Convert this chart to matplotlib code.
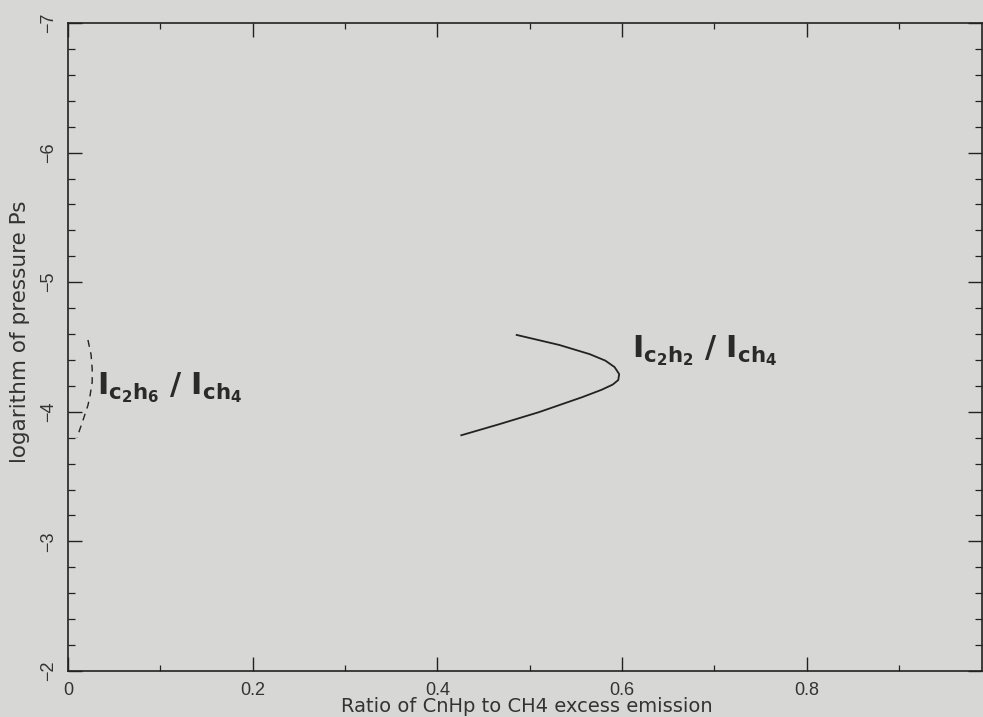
import matplotlib
matplotlib.use("Agg")
import matplotlib.pyplot as plt
from matplotlib.ticker import MultipleLocator

# data
c2h6_ratio = [0.0216, 0.0250, 0.0262, 0.0262, 0.0240, 0.0216, 0.0160, 0.0097]
c2h6_logp = [-4.554, -4.440, -4.330, -4.230, -4.130, -4.050, -3.930, -3.800]

c2h2_ratio = [0.486, 0.532, 0.565, 0.582, 0.592, 0.597, 0.596, 0.590, 0.578, 0.557, 0.510, 0.467, 0.426]
c2h2_logp = [-4.593, -4.516, -4.445, -4.395, -4.345, -4.291, -4.245, -4.210, -4.170, -4.113, -3.997, -3.904, -3.819]

x_ticks = [0, 0.2, 0.4, 0.6, 0.8]
x_ticklabels = ["0", "0.2", "0.4", "0.6", "0.8"]
y_ticks = [-7, -6, -5, -4, -3, -2]
y_ticklabels = ["\u22127", "\u22126", "\u22125", "\u22124", "\u22123", "\u22122"]

label_c2h6 = r"$\mathbf{I_{c_2h_6}\ /\ I_{ch_4}}$"
label_c2h2 = r"$\mathbf{I_{c_2h_2}\ /\ I_{ch_4}}$"
xlabel = "Ratio of CnHp to CH4 excess emission"
ylabel = "logarithm of pressure Ps"

plt.rcParams['font.family'] = ['Liberation Sans', 'DejaVu Sans']
plt.rcParams['mathtext.fontset'] = 'dejavusans'

bg = "#d7d7d5"
fig = plt.figure(figsize=(9.83, 7.17), dpi=100, facecolor=bg)
ax = fig.add_axes([68/983, 1-671/717, (982-68)/983, (671-23)/717])
ax.set_facecolor(bg)

ax.plot(c2h6_ratio, c2h6_logp, color="#222222", lw=1.0, ls=(0, (5, 4)))
ax.plot(c2h2_ratio, c2h2_logp, color="#222222", lw=1.3)

ax.set_xlim(0, 0.99)
ax.set_ylim(-2, -7)

ax.set_xticks(x_ticks)
ax.set_xticklabels(x_ticklabels)
ax.xaxis.set_minor_locator(MultipleLocator(0.1))
ax.set_yticks(y_ticks)
ax.set_yticklabels(y_ticklabels, rotation=90, va="center")
ax.yaxis.set_minor_locator(MultipleLocator(0.2))

ax.tick_params(which="both", direction="in", top=True, right=True, colors="#222222",
               labelsize=13, labelcolor="#333333")
ax.tick_params(which="major", length=10, width=1.0, pad=8)
ax.tick_params(which="minor", length=5, width=0.9)
ax.tick_params(axis="x", which="minor", length=4)

for s in ax.spines.values():
    s.set_color("#222222")
    s.set_linewidth(1.2)

ax.set_xlabel(xlabel, fontsize=14, color="#333333", family="DejaVu Sans")
ax.set_ylabel(ylabel, fontsize=15.5, color="#333333", family="DejaVu Sans")
ax.xaxis.set_label_coords(0.502, -36/648, transform=ax.transAxes)
ax.yaxis.set_label_coords(-48/914, 0.523, transform=ax.transAxes)
ax.xaxis.label.set_va("center")
ax.yaxis.label.set_va("center")

ax.text(0.031, -4.19, label_c2h6, fontsize=22, color="#2a2a2a", va="center", ha="left")
ax.text(0.611, -4.47, label_c2h2, fontsize=22, color="#2a2a2a", va="center", ha="left")

fig.savefig("out.png", dpi=100, facecolor=bg)
